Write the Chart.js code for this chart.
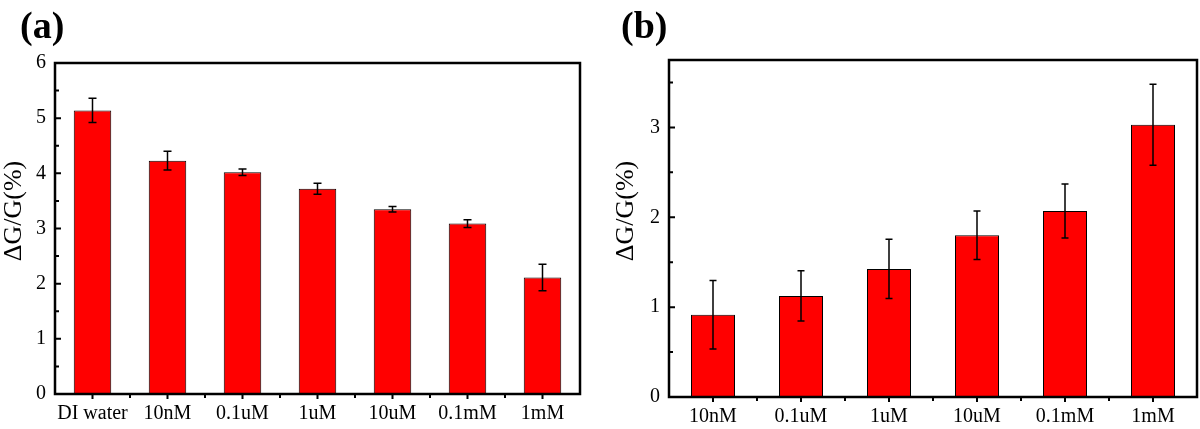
<!DOCTYPE html>
<html><head><meta charset="utf-8">
<script src="https://cdn.jsdelivr.net/npm/chart.js@4.4.0/dist/chart.umd.min.js"></script>
<style>
html,body{margin:0;padding:0;background:#fff;}
#wrap{position:relative;width:1200px;height:429px;overflow:hidden;background:#fff;}
.pane{position:absolute;top:0;width:600px;height:429px;}
</style></head><body>
<div id="wrap">
<div class="pane" style="left:0"><canvas id="ca" width="600" height="429"></canvas></div>
<div class="pane" style="left:600px"><canvas id="cb" width="600" height="429"></canvas></div>
</div>
<script>
// ---- data ----
const categoriesA = ['DI water','10nM','0.1uM','1uM','10uM','0.1mM','1mM'];
const valuesA = [5.14, 4.23, 4.02, 3.72, 3.35, 3.09, 2.11];
const errorsA = [0.22, 0.17, 0.06, 0.10, 0.05, 0.07, 0.24];
const yTicksA = [0, 1, 2, 3, 4, 5, 6];

const categoriesB = ['10nM','0.1uM','1uM','10uM','0.1mM','1mM'];
const valuesB = [0.915, 1.125, 1.425, 1.80, 2.07, 3.03];
const errorsB = [0.38, 0.28, 0.33, 0.27, 0.30, 0.45];
const yTicksB = [0, 1, 2, 3];

const yTitle = 'ΔG/G(%)';
const panelLabels = ['(a)', '(b)'];

const FONT = '"Liberation Serif", "Times New Roman", serif';
Chart.defaults.font.family = FONT;
Chart.defaults.color = '#000';

function makeChart(id, cats, vals, errs, yTicks, yMax, o) {
  const plugin = {
    id: 'deco_' + id,
    afterDatasetsDraw(chart) {
      const ctx = chart.ctx, ys = chart.scales.y, meta = chart.getDatasetMeta(0);
      ctx.save();
      ctx.strokeStyle = '#000';
      ctx.lineWidth = 1.5;
      meta.data.forEach((bar, i) => {
        const x = bar.x;
        const y1 = ys.getPixelForValue(vals[i] + errs[i]);
        const y2 = ys.getPixelForValue(vals[i] - errs[i]);
        ctx.beginPath();
        ctx.moveTo(x, y1); ctx.lineTo(x, y2);
        ctx.moveTo(x - o.cap, y1); ctx.lineTo(x + o.cap, y1);
        ctx.moveTo(x - o.cap, y2); ctx.lineTo(x + o.cap, y2);
        ctx.stroke();
      });
      ctx.restore();
    },
    afterDraw(chart) {
      const ctx = chart.ctx, a = chart.chartArea, xs = chart.scales.x, ys = chart.scales.y;
      ctx.save();
      ctx.strokeStyle = '#000';
      // frame
      ctx.lineWidth = 2.5;
      ctx.strokeRect(a.left, a.top, a.right - a.left, a.bottom - a.top);
      // y ticks (inward)
      ctx.lineWidth = 2;
      ctx.beginPath();
      yTicks.forEach(v => {
        const y = ys.getPixelForValue(v);
        ctx.moveTo(a.left, y); ctx.lineTo(a.left + 6, y);
        const m = v + 0.5;
        if (m < yMax) {
          const ym = ys.getPixelForValue(m);
          ctx.moveTo(a.left, ym); ctx.lineTo(a.left + 4, ym);
        }
      });
      // x ticks (outward)
      cats.forEach((c, i) => {
        const x = xs.getPixelForValue(i);
        ctx.moveTo(x, a.bottom); ctx.lineTo(x, a.bottom + 5);
        if (i < cats.length - 1) {
          const xm = (x + xs.getPixelForValue(i + 1)) / 2;
          ctx.moveTo(xm, a.bottom); ctx.lineTo(xm, a.bottom + 4);
        }
      });
      ctx.stroke();
      // y title
      ctx.fillStyle = '#000';
      ctx.save();
      ctx.translate(o.titleX, o.titleY);
      ctx.rotate(-Math.PI / 2);
      ctx.textAlign = 'center';
      ctx.textBaseline = 'middle';
      ctx.font = '26px ' + FONT;
      ctx.fillText(yTitle, 0, 0);
      ctx.restore();
      // panel label
      ctx.font = 'bold 38px ' + FONT;
      ctx.textAlign = 'left';
      ctx.textBaseline = 'alphabetic';
      ctx.fillText(o.label, o.labelX, o.labelY);
      ctx.restore();
    }
  };

  return new Chart(document.getElementById(id), {
    type: 'bar',
    data: {
      labels: cats,
      datasets: [{
        data: vals,
        backgroundColor: '#ff0000',
        borderColor: '#000',
        borderWidth: 1,
        barPercentage: 0.5,
        categoryPercentage: 1.0
      }]
    },
    options: {
      responsive: false,
      animation: false,
      devicePixelRatio: 1,
      layout: { padding: { left: 0, top: o.T, right: o.R, bottom: 0 } },
      plugins: { legend: { display: false }, tooltip: { enabled: false } },
      scales: {
        x: {
          offset: true,
          grid: { display: false, drawTicks: false },
          border: { display: false },
          ticks: { font: { size: 20 }, color: '#000', padding: 8, maxRotation: 0, autoSkip: false },
          afterFit(s) { s.height = o.B; }
        },
        y: {
          min: 0, max: yMax,
          grid: { display: false, drawTicks: false },
          border: { display: false },
          afterBuildTicks(s) { s.ticks = yTicks.map(v => ({ value: v })); },
          ticks: { font: { size: 20 }, color: '#000', padding: 9 },
          afterFit(s) { s.width = o.L; }
        }
      }
    },
    plugins: [plugin]
  });
}

makeChart('ca', categoriesA, valuesA, errorsA, yTicksA, 6,
  { L: 55, T: 63, R: 20, B: 35, cap: 4, titleX: 14.5, titleY: 211, label: panelLabels[0], labelX: 20, labelY: 38 });
makeChart('cb', categoriesB, valuesB, errorsB, yTicksB, 3.75,
  { L: 69, T: 60, R: 3, B: 32, cap: 3.5, titleX: 26, titleY: 211, label: panelLabels[1], labelX: 21, labelY: 38 });
</script>
</body></html>
